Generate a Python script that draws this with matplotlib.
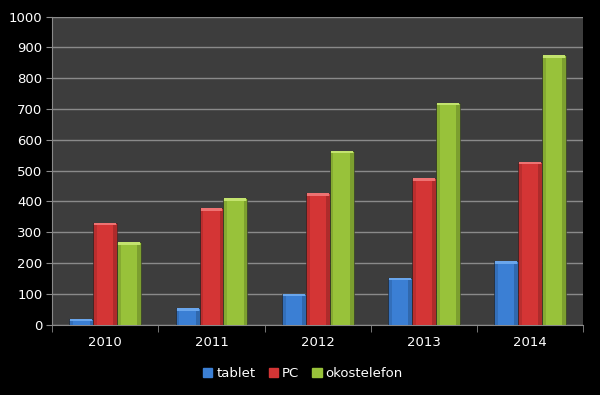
import numpy as np
import matplotlib.pyplot as plt
from matplotlib.patches import Patch

years = ['2010', '2011', '2012', '2013', '2014']
tablet = [20, 55, 101, 153, 207]
pc = [331, 379, 426, 476, 529]
okostelefon = [267, 410, 565, 721, 875]

series = [('tablet', tablet, '#3b7fd4', '#6aa6ec'),
          ('PC', pc, '#d43535', '#ee7272'),
          ('okostelefon', okostelefon, '#98c23a', '#c3e36e')]

fig = plt.figure(figsize=(6, 3.95), dpi=100, facecolor='black')
ax = fig.add_axes([0.087, 0.178, 0.885, 0.78])
ax.set_facecolor('#3d3d3d')

x = np.arange(len(years))
w = 0.225
for i, (name, vals, col, light) in enumerate(series):
    pos = x + (i - 1) * w
    vals = np.array(vals)
    ax.bar(pos, vals, w, color=col, edgecolor='#222222', linewidth=0.4, zorder=3)
    # light cap on top of each bar
    cap = np.minimum(vals, 9)
    ax.bar(pos, cap, w * 0.92, bottom=vals - cap, color=light, linewidth=0, zorder=4)
    # soft darker edge strips
    ax.bar(pos - w * 0.42, vals - cap, w * 0.16, color='black', alpha=0.12, linewidth=0, zorder=4)
    ax.bar(pos + w * 0.42, vals - cap, w * 0.16, color='black', alpha=0.18, linewidth=0, zorder=4)

ax.set_xlim(-0.5, len(years) - 0.5)
ax.set_ylim(0, 1000)
ax.set_yticks(range(0, 1001, 100))
ax.yaxis.grid(True, color='#8a8a8a', linewidth=1)
ax.set_axisbelow(True)

ax.set_xticks(x)
ax.set_xticklabels(years)
ax.set_xticks(np.arange(-0.5, len(years)), minor=True)
ax.tick_params(axis='x', which='major', length=0, pad=8, colors='white', labelsize=9.5)
ax.tick_params(axis='x', which='minor', length=5, color='#8a8a8a')
ax.tick_params(axis='y', length=4, color='#8a8a8a', colors='white', labelsize=9.5, pad=3)
ax.tick_params(axis='y', color='#8a8a8a')

for s in ['top', 'right']:
    ax.spines[s].set_visible(False)
for s in ['left', 'bottom']:
    ax.spines[s].set_color('#8a8a8a')

handles = [Patch(facecolor=c, edgecolor=c) for _, _, c, _ in series]
leg = fig.legend(handles, [s[0] for s in series], loc='center', bbox_to_anchor=(0.505, 0.055),
                 ncol=3, frameon=False, fontsize=9.5, handlelength=0.7, handleheight=0.7,
                 handletextpad=0.3, columnspacing=1.0)
for t in leg.get_texts():
    t.set_color('white')

fig.savefig('out.png', dpi=100, facecolor='black')
